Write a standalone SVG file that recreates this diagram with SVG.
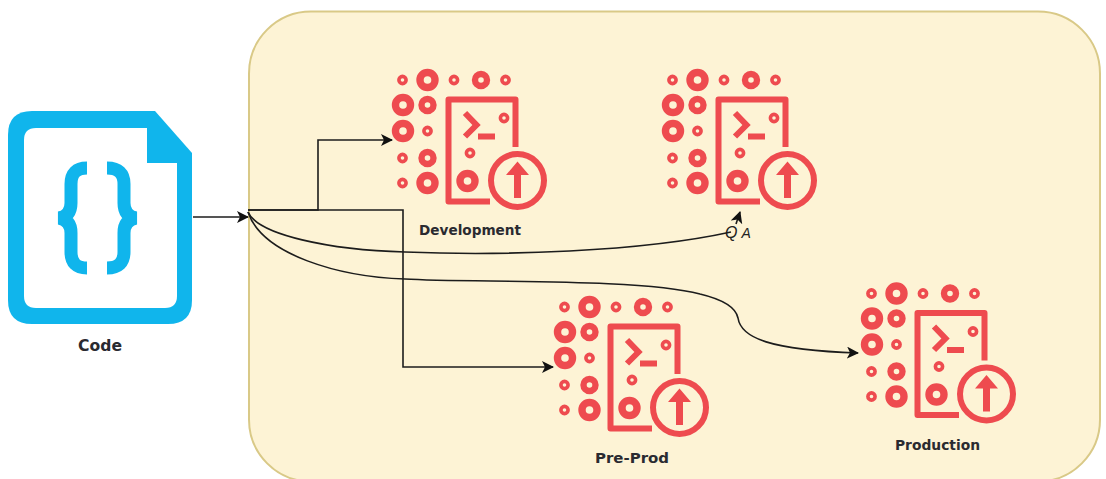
<svg xmlns="http://www.w3.org/2000/svg" width="1106" height="479" viewBox="0 0 1106 479">
<style>
.r{fill:none;stroke:#ee4b4f}
.s{stroke-width:3.6}.b{stroke-width:7.4}.m{stroke-width:6.4}
.ln{fill:none;stroke:#ee4b4f;stroke-width:6}
.c{fill:none;stroke:#1c1c1c;stroke-width:1.6}
.t{font-family:"DejaVu Sans",sans-serif;font-weight:bold;fill:#2a2a30}
</style>
<defs>
<marker id="a" markerUnits="userSpaceOnUse" markerWidth="14" markerHeight="14" refX="11" refY="6" orient="auto"><path d="M0 0L12 6L0 12L3 6Z" fill="#111"/></marker>
<g id="icon">
<g class="r s"><circle cx="22.500" cy="20" r="3.600"/><circle cx="74" cy="20" r="3.600"/><circle cx="125.500" cy="20" r="3.600"/><circle cx="22.500" cy="98" r="3.600"/><circle cx="22.500" cy="123" r="3.600"/><circle cx="47.500" cy="71" r="3.600"/><circle cx="90" cy="93" r="3.600"/><circle cx="124" cy="58" r="3.600"/></g>
<g class="r b"><circle cx="47.500" cy="20" r="7.500"/><circle cx="23" cy="45" r="7.500"/><circle cx="23" cy="71" r="7.500"/><circle cx="47.500" cy="123" r="7.500"/><circle cx="87.500" cy="121" r="7.500"/></g>
<g class="r m"><circle cx="101" cy="20" r="6"/><circle cx="47.500" cy="45" r="6"/><circle cx="47.500" cy="98" r="6"/></g>
<path class="ln" stroke-linejoin="round" d="M135.500 87V39.500H68.500V141.500H110"/>
<path class="ln" d="M85 53L96.500 65L85 76.500M98 76.500H115"/>
<circle class="ln" cx="137.500" cy="120.500" r="26.500"/>
<path d="M137.500 101.500L149 115H141V138H134V115H126Z" fill="#ee4b4f"/>
</g>
</defs>
<g id="env"><rect x="249" y="11.500" width="851" height="470" rx="62" fill="#fdf3d5" stroke="#d9c987" stroke-width="2"/></g>
<g id="code">
<path d="M32 111H155L192 153V300Q192 324 168 324H32Q8 324 8 300V135Q8 111 32 111Z" fill="#10b5ec"/>
<path d="M36 128Q24 128 24 140V296Q24 308 36 308H165Q177 308 177 296V163H147V128Z" fill="#fff"/>
<path d="M87 168Q71 168 71 184V203Q71 216 59 218Q71 220 71 233V252Q71 268 87 268" fill="none" stroke="#10b5ec" stroke-width="13"/>
<path d="M107 168Q124 168 124 184V203Q124 216 136 218Q124 220 124 233V252Q124 268 107 268" fill="none" stroke="#10b5ec" stroke-width="13"/>
<text class="t" x="78" y="351" font-size="15.500" textLength="44" lengthAdjust="spacingAndGlyphs">Code</text>
</g>
<g id="development"><use href="#icon" x="380" y="60"/><text class="t" x="419" y="235" font-size="13.500" textLength="102" lengthAdjust="spacingAndGlyphs">Development</text></g>
<g id="qa"><use href="#icon" x="650" y="60"/><text x="725" y="237.500" font-size="16" font-style="italic" font-family="'Liberation Sans',sans-serif" fill="#222">Q<tspan dx="4" font-size="14">A</tspan></text></g>
<g id="preprod"><use href="#icon" x="542" y="287"/><text class="t" x="595" y="463" font-size="14" textLength="74" lengthAdjust="spacingAndGlyphs">Pre-Prod</text></g>
<g id="production"><use href="#icon" x="849" y="273.500"/><text class="t" x="895" y="450" font-size="13.800" textLength="85" lengthAdjust="spacingAndGlyphs">Production</text></g>
<g id="connectors">
<path class="c" d="M193 217H248" marker-end="url(#a)"/>
<path class="c" d="M248 210H318V140H392" marker-end="url(#a)"/>
<path class="c" d="M248 210H403V367H553" marker-end="url(#a)"/>
<path class="c" d="M248 212C258 235 330 250 405 252C500 256 640 252 731 232"/>
<path class="c" d="M736 224L740 212" marker-end="url(#a)"/>
<path class="c" d="M248 212C262 255 340 277 405 279C470 283 640 278 700 294C725 300 736 308 738 318C741 338 770 350 858 353" marker-end="url(#a)"/>
</g>
</svg>
